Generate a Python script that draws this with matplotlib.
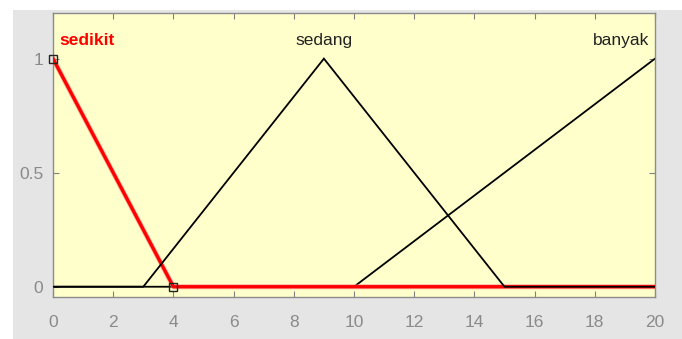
import matplotlib
matplotlib.use("Agg")
import matplotlib.pyplot as plt
from matplotlib.patches import Rectangle

plt.rcParams['font.family'] = ['Liberation Sans', 'DejaVu Sans']

# Membership functions (x breakpoints, membership values)
sedikit_x = [0, 4, 20]
sedikit_y = [1, 0, 0]
sedang_x = [0, 3, 9, 15, 20]
sedang_y = [0, 0, 1, 0, 0]
banyak_x = [0, 10, 20]
banyak_y = [0, 0, 1]

names = ["sedikit", "sedang", "banyak"]
label_x = [0.2, 9, 19.8]
label_ha = ["left", "center", "right"]
label_y = 1.06

xticks = list(range(0, 21, 2))
yticks = [0, 0.5, 1]
yticklabels = ["0", "0.5", "1"]

fig = plt.figure(figsize=(6.82, 3.39), dpi=100)
fig.patch.set_facecolor("white")
fig.patches.append(Rectangle((13 / 682, 0), 1, 1 - 10 / 339, transform=fig.transFigure,
                             facecolor="#e5e5e5", edgecolor="none", zorder=-10))

ax = fig.add_axes([53 / 682, 1 - 297 / 339, (655 - 53) / 682, (297 - 13) / 339])
ax.set_facecolor("#ffffcc")

ax.plot(banyak_x, banyak_y, color="black", lw=1.3, zorder=2, solid_joinstyle="miter")
ax.plot(sedikit_x, sedikit_y, color="#ff8080", lw=3.6, zorder=3, alpha=0.6)
ax.plot(sedikit_x, sedikit_y, color="red", lw=2.4, zorder=3.1)
ax.plot(sedang_x, sedang_y, color="black", lw=1.3, zorder=4, solid_joinstyle="miter")
ax.plot([sedikit_x[0], sedikit_x[1]], [sedikit_y[0], sedikit_y[1]], ls="none",
        marker="s", ms=5.5, mfc="none", mec="#222222", mew=1.0, zorder=5, clip_on=False)

colors = ["red", "#222222", "#222222"]
weights = ["bold", "normal", "normal"]
for n, x, ha, c, w in zip(names, label_x, label_ha, colors, weights):
    ax.text(x, label_y, n, ha=ha, va="baseline", color=c, fontsize=12.5, fontweight=w)

ax.set_xlim(0, 20)
ax.set_ylim(-0.045, 1.2)
ax.set_xticks(xticks)
ax.set_yticks(yticks)
ax.set_yticklabels(yticklabels)
ax.tick_params(axis="both", direction="in", length=4, width=0.8, color="#808080",
               labelcolor="#8a8a8a", labelsize=12.5, top=True, right=True)
ax.tick_params(axis="x", pad=13)
ax.tick_params(axis="y", pad=7)
for s in ax.spines.values():
    s.set_color("#8c8c8c")
    s.set_linewidth(1.0)

fig.savefig("out.png", dpi=100, facecolor=fig.get_facecolor())
